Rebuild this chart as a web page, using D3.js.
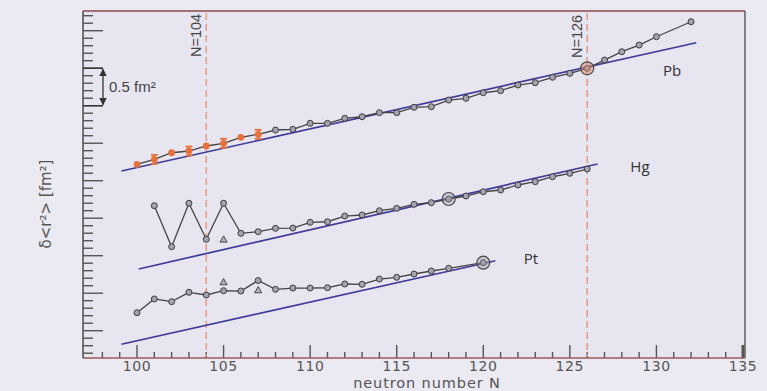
<!DOCTYPE html>
<html>
<head>
<meta charset="utf-8">
<script src="https://cdn.jsdelivr.net/npm/d3@7"></script>
<style>
  html, body { margin: 0; padding: 0; background: #ebe9f2; }
  svg { display: block; }
</style>
</head>
<body>
<svg id="chart" width="767" height="391"></svg>
<script>
// ---------------- data (values in fm², relative scale) ----------------
const xTickLabels = [100, 105, 110, 115, 120, 125, 130, 135];

const pbOrangeN = [100, 101, 102, 103, 104, 105, 106, 107];
const pbOrangeV = [2.219, 2.285, 2.373, 2.396, 2.463, 2.499, 2.579, 2.619];
const pbErrN = [101, 103, 105, 107];
const pbErr = 0.06;

const pbN = [107, 108, 109, 110, 111, 112, 113, 114, 115, 116, 117, 118, 119, 120, 121, 122, 123, 124, 125, 126, 127, 128, 129, 130, 132];
const pbV = [2.619, 2.676, 2.685, 2.765, 2.765, 2.832, 2.853, 2.907, 2.907, 2.979, 2.987, 3.076, 3.099, 3.173, 3.200, 3.276, 3.307, 3.379, 3.432, 3.499, 3.609, 3.720, 3.809, 3.920, 4.120];

const hgN = [101, 102, 103, 104, 105, 106, 107, 108, 109, 110, 111, 112, 113, 114, 115, 116, 117, 118, 119, 120, 121, 122, 123, 124, 125, 126];
const hgV = [1.667, 1.120, 1.699, 1.219, 1.699, 1.299, 1.320, 1.365, 1.369, 1.445, 1.453, 1.529, 1.543, 1.600, 1.632, 1.685, 1.707, 1.756, 1.796, 1.853, 1.876, 1.943, 1.987, 2.053, 2.099, 2.156];
const hgTriN = [105];
const hgTriV = [1.209];

const ptN = [100, 101, 102, 103, 104, 105, 106, 107, 108, 109, 110, 111, 112, 113, 114, 115, 116, 117, 118, 120];
const ptV = [0.240, 0.423, 0.387, 0.512, 0.476, 0.533, 0.529, 0.669, 0.552, 0.569, 0.569, 0.573, 0.623, 0.619, 0.689, 0.712, 0.756, 0.796, 0.832, 0.907];
const ptTriN = [105, 107];
const ptTriV = [0.640, 0.533];

// reference straight lines [N, value]
const pbRefN = [99.1, 132.3];  const pbRefV = [2.129, 3.840];
const hgRefN = [100.1, 126.6]; const hgRefV = [0.823, 2.223];
const ptRefN = [99.1, 120.7];  const ptRefV = [-0.181, 0.933];

// highlighted (big circle) points
const bigN = [126, 118, 120];
const bigV = [3.499, 1.756, 0.907];

const magicN = [104, 126];
const seriesLabels = ["Pb", "Hg", "Pt"];
const seriesLabelN = [130.9, 129.05, 122.75];
const seriesLabelV = [3.39, 2.11, 0.885];

// ---------------- layout ----------------
const svg = d3.select("#chart");
const pL = 83, pR = 745, pT = 11, pB = 358;

const x = d3.scaleLinear().domain([100, 135]).range([137, 743]);
const y = d3.scaleLinear().domain([-0.364, 4.263]).range([pB, pT]);

svg.append("rect").attr("x", pL).attr("y", pT)
  .attr("width", pR - pL).attr("height", pB - pT)
  .attr("fill", "#e7e5f0");

// frame
svg.append("line").attr("x1", pL).attr("x2", pR).attr("y1", pT).attr("y2", pT)
  .attr("stroke", "#8a4848").attr("stroke-width", 1.6);
svg.append("line").attr("x1", pR).attr("x2", pR).attr("y1", pT).attr("y2", pB)
  .attr("stroke", "#555").attr("stroke-width", 1.4);

// x axis (ticks inward)
const xAxis = svg.append("g");
const xMinor = d3.range(98, 136);
xAxis.selectAll("line.t").data(xMinor).join("line")
  .attr("x1", d => x(d)).attr("x2", d => x(d))
  .attr("y1", pB).attr("y2", d => pB - (d % 5 === 0 ? 13 : 6))
  .attr("stroke", "#555").attr("stroke-width", d => d === 135 ? 3 : 1.4);
svg.append("line").attr("x1", pL).attr("x2", pR).attr("y1", pB).attr("y2", pB)
  .attr("stroke", "#9a5a5a").attr("stroke-width", 1.4);
xAxis.selectAll("text").data(xTickLabels).join("text")
  .attr("x", d => x(d)).attr("y", 371)
  .attr("text-anchor", "middle")
  .attr("font-family", "DejaVu Sans, sans-serif").attr("font-size", 14)
  .attr("letter-spacing", 0.6)
  .attr("fill", "#555").text(d => d);

svg.append("text").attr("x", 427).attr("y", 388)
  .attr("text-anchor", "middle")
  .attr("font-family", "DejaVu Sans, sans-serif").attr("font-size", 14.5)
  .attr("letter-spacing", 0.9)
  .attr("fill", "#555").text("neutron number N");

// y axis (ticks inward)
const yTicks = d3.range(-3, 43).map(i => i / 10);
svg.selectAll("line.yt").data(yTicks).join("line")
  .attr("x1", pL).attr("x2", d => pL + (Math.abs(Math.round(d * 10) % 5) === 0 ? 20 : 10))
  .attr("y1", d => y(d)).attr("y2", d => y(d))
  .attr("stroke", "#555").attr("stroke-width", 1.4);
svg.append("line").attr("x1", pL).attr("x2", pL).attr("y1", pT).attr("y2", pB)
  .attr("stroke", "#555").attr("stroke-width", 1.6);

svg.append("text")
  .attr("transform", `translate(51, 204) rotate(-90)`)
  .attr("text-anchor", "middle")
  .attr("font-family", "DejaVu Sans, sans-serif").attr("font-size", 15)
  .attr("fill", "#555").text("δ<r²> [fm²]");

// 0.5 fm² scale bar
svg.append("defs").html(
  '<marker id="ah" viewBox="0 0 10 10" refX="9" refY="5" markerWidth="6" markerHeight="6" orient="auto-start-reverse">' +
  '<path d="M0,0 L10,5 L0,10 z" fill="#333"/></marker>');
svg.append("line").attr("x1", 103).attr("x2", 103)
  .attr("y1", y(3.5) + 1).attr("y2", y(3.0) - 1)
  .attr("stroke", "#333").attr("stroke-width", 1.3)
  .attr("marker-start", "url(#ah)").attr("marker-end", "url(#ah)");
svg.selectAll("line.sb").data([3.0, 3.5]).join("line")
  .attr("x1", pL).attr("x2", 103).attr("y1", d => y(d)).attr("y2", d => y(d))
  .attr("stroke", "#333").attr("stroke-width", 1.4);
svg.append("text").attr("x", 109).attr("y", 92)
  .attr("font-family", "Liberation Sans, Arial, sans-serif").attr("font-size", 15)
  .attr("fill", "#444").text("0.5 fm²");

// magic number dashed lines
svg.selectAll("line.magic").data(magicN).join("line")
  .attr("x1", d => x(d)).attr("x2", d => x(d))
  .attr("y1", pT + 2).attr("y2", pB - 2)
  .attr("stroke", "#e4a08a").attr("stroke-width", 1.6)
  .attr("stroke-dasharray", "7,4");
svg.selectAll("text.magic").data(magicN).join("text")
  .attr("transform", d => `translate(${x(d) - 5}, ${d === 104 ? 57 : 58}) rotate(-90)`)
  .attr("font-family", "Liberation Sans, Arial, sans-serif").attr("font-size", 14.5)
  .attr("fill", "#444").text(d => "N=" + d);

// reference lines
const refs = [[pbRefN, pbRefV], [hgRefN, hgRefV], [ptRefN, ptRefV]];
const line = d3.line().x(d => x(d[0])).y(d => y(d[1]));
refs.forEach(([ns, vs]) => {
  svg.append("path").datum(ns.map((n, i) => [n, vs[i]]))
    .attr("d", line).attr("fill", "none")
    .attr("stroke", "#3e3c98").attr("stroke-width", 1.7);
});

// data lines
const pbAll = pbOrangeN.slice(0, -1).map((n, i) => [n, pbOrangeV[i]])
  .concat(pbN.map((n, i) => [n, pbV[i]]));
const hgAll = hgN.map((n, i) => [n, hgV[i]]);
const ptAll = ptN.map((n, i) => [n, ptV[i]]);
[pbAll, hgAll, ptAll].forEach(pts => {
  svg.append("path").datum(pts).attr("d", line).attr("fill", "none")
    .attr("stroke", "#444").attr("stroke-width", 1.3);
});

// gray circle markers
const grayPts = pbN.slice(1).map((n, i) => [n, pbV[i + 1]]).concat(hgAll, ptAll);
svg.selectAll("circle.g").data(grayPts).join("circle")
  .attr("cx", d => x(d[0])).attr("cy", d => y(d[1])).attr("r", 3)
  .attr("fill", "#a5a3b0").attr("stroke", "#3c3c3c").attr("stroke-width", 1);

// big circles
svg.selectAll("circle.big").data(bigN.map((n, i) => [n, bigV[i]])).join("circle")
  .attr("cx", d => x(d[0])).attr("cy", d => y(d[1])).attr("r", 6.5)
  .attr("fill", (d, i) => i === 0 ? "rgba(220,140,110,0.5)" : "rgba(150,150,160,0.4)")
  .attr("stroke", "#4a4a4a").attr("stroke-width", 1.2);

// triangles
const triPts = hgTriN.map((n, i) => [n, hgTriV[i]]).concat(ptTriN.map((n, i) => [n, ptTriV[i]]));
svg.selectAll("path.tri").data(triPts).join("path")
  .attr("d", d3.symbol().type(d3.symbolTriangle).size(22))
  .attr("transform", d => `translate(${x(d[0])},${y(d[1])})`)
  .attr("fill", "#b5b3be").attr("stroke", "#444").attr("stroke-width", 1);

// orange Pb points with error bars
const errG = svg.append("g");
pbErrN.forEach(n => {
  const v = pbOrangeV[pbOrangeN.indexOf(n)];
  const cx = x(n);
  errG.append("line").attr("x1", cx).attr("x2", cx)
    .attr("y1", y(v + pbErr)).attr("y2", y(v - pbErr))
    .attr("stroke", "#e8703a").attr("stroke-width", 1.8);
  [v + pbErr, v - pbErr].forEach(e => {
    errG.append("line").attr("x1", cx - 3.5).attr("x2", cx + 3.5)
      .attr("y1", y(e)).attr("y2", y(e))
      .attr("stroke", "#e8703a").attr("stroke-width", 1.8);
  });
});
svg.selectAll("circle.o").data(pbOrangeN.map((n, i) => [n, pbOrangeV[i]])).join("circle")
  .attr("cx", d => x(d[0])).attr("cy", d => y(d[1])).attr("r", 3.4)
  .attr("fill", "#e8703a");

// element labels
svg.selectAll("text.el").data(seriesLabels).join("text")
  .attr("x", (d, i) => x(seriesLabelN[i])).attr("y", (d, i) => y(seriesLabelV[i]))
  .attr("text-anchor", "middle")
  .attr("font-family", "Open Sans, sans-serif").attr("font-size", 15)
  .attr("fill", "#333").text(d => d);
</script>
</body>
</html>
